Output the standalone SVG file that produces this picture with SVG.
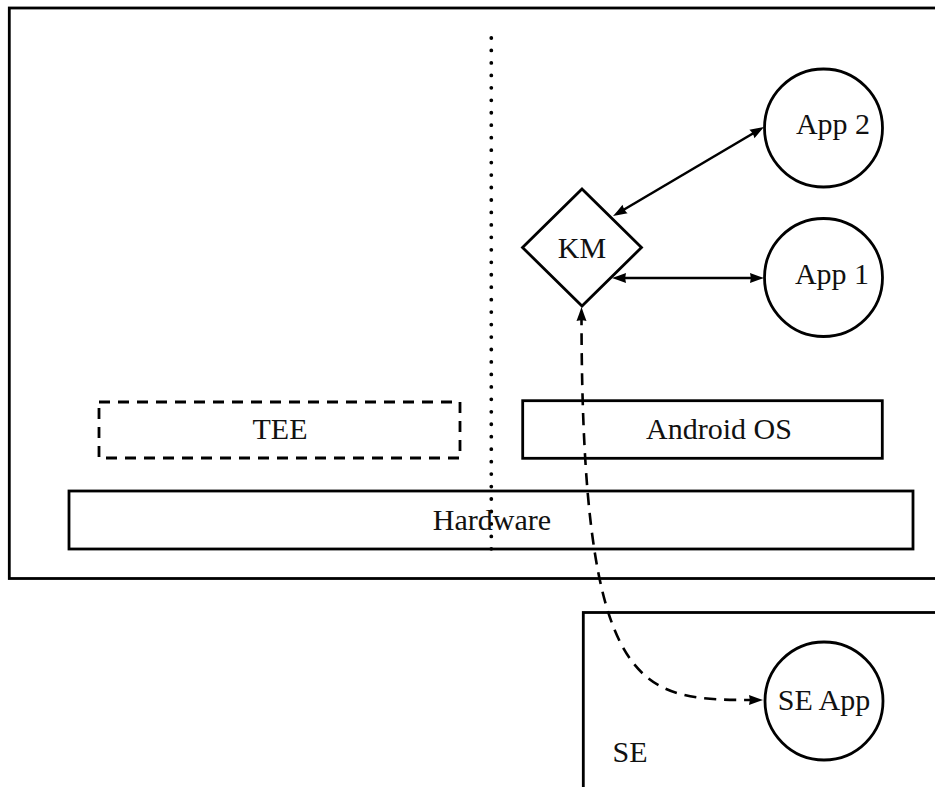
<svg xmlns="http://www.w3.org/2000/svg" width="935" height="787" viewBox="0 0 935 787">
  <style>
    .box { fill: none; stroke: #000; stroke-width: 2.8; }
    .dashbox { fill: none; stroke: #000; stroke-width: 2.8; stroke-dasharray: 11 8; }
    .node { fill: #fff; stroke: #000; stroke-width: 2.8; }
    .lbl { font-family: "Liberation Serif", "Times New Roman", serif; font-size: 30px; fill: #111; text-anchor: middle; }
    .link { fill: none; stroke: #000; stroke-width: 2.6; marker-start: url(#tip); marker-end: url(#tip); }
    .dashed { stroke-dasharray: 12 8; }
    .divider { fill: none; stroke: #000; stroke-width: 3.8; stroke-linecap: round; stroke-dasharray: 0 12.46; }
  </style>
  <defs>
    <marker id="tip" markerUnits="userSpaceOnUse" viewBox="-9 -7 17 14" refX="0" refY="0" markerWidth="17" markerHeight="14" orient="auto-start-reverse">
      <path d="M6,0 Q0,-2 -8,-5 Q-6.3,0 -8,5 Q0,2 6,0 Z" fill="#000"/>
    </marker>
  </defs>

  <rect x="0" y="0" width="935" height="787" fill="#fff"/>

  <!-- device enclosure -->
  <g id="device">
    <rect class="box" x="9.3" y="8" width="1000" height="570.5"/>
  </g>

  <!-- secure element enclosure -->
  <g id="se">
    <rect class="box" x="583.3" y="612.5" width="400" height="300"/>
    <text class="lbl" x="630" y="762">SE</text>
  </g>

  <!-- world separator -->
  <g id="separator">
    <line class="divider" x1="491.3" y1="38" x2="491.3" y2="549"/>
  </g>

  <g id="hardware">
    <rect class="box" x="69" y="491" width="844" height="58"/>
    <text class="lbl" x="492" y="530">Hardware</text>
  </g>

  <g id="tee">
    <rect class="dashbox" x="99" y="402" width="361" height="56"/>
    <text class="lbl" x="280" y="439">TEE</text>
  </g>

  <g id="android">
    <rect class="box" x="522.7" y="400.7" width="359.6" height="57.6"/>
    <text class="lbl" x="719" y="439">Android OS</text>
  </g>

  <g id="km">
    <polygon class="node" points="582,189 641.5,247.5 582,306 522.5,247.5"/>
    <text class="lbl" x="582" y="258">KM</text>
  </g>

  <g id="app2">
    <circle class="node" cx="823.5" cy="128" r="59"/>
    <text class="lbl" x="833" y="134">App 2</text>
  </g>

  <g id="app1">
    <circle class="node" cx="823.5" cy="277.5" r="59"/>
    <text class="lbl" x="832" y="284">App 1</text>
  </g>

  <g id="seapp">
    <circle class="node" cx="824" cy="701" r="59"/>
    <text class="lbl" x="824" y="710">SE App</text>
  </g>

  <!-- connectors -->
  <g id="connectors">
    <line class="link" x1="618.2" y1="213" x2="758.8" y2="130"/>
    <line class="link" x1="618" y1="278" x2="758" y2="278"/>
    <path class="link dashed" d="M581.5,313 C581.5,700 640,700 757,700"/>
  </g>
</svg>
